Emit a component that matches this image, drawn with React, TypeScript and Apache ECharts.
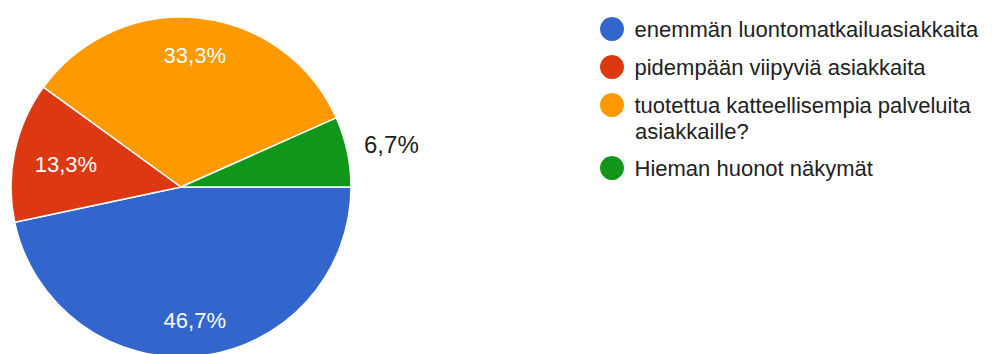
import React, { useEffect, useRef } from "react";
import * as echarts from "echarts";

const categories = [
  "enemmän luontomatkailuasiakkaita",
  "pidempään viipyviä asiakkaita",
  "tuotettua katteellisempia palveluita asiakkaille?",
  "Hieman huonot näkymät",
];
const counts = [7, 2, 5, 1];
const colors = ["#3366cc", "#dc3912", "#ff9900", "#109618"];
const legendFirstLine = "tuotettua katteellisempia palveluita";
const legendSecondLine = "asiakkaille?";

const FONT = "'Liberation Sans', Arial, sans-serif";

export default function App() {
  const ref = useRef<HTMLDivElement>(null);
  useEffect(() => {
    if (!ref.current) return;
    const chart = echarts.init(ref.current, undefined, { renderer: "svg" });
    const total = counts.reduce((a, b) => a + b, 0);
    const fmtPct = (v: number) => ((v / total) * 100).toFixed(1).replace(".", ",") + "%";
    const data = categories.map((name, i) => ({
      name,
      value: counts[i],
      itemStyle: { color: colors[i] },
    }));
    const labelData = categories.map((name, i) =>
      i === 3
        ? {
            name,
            value: counts[i],
            label: { position: "outside", color: "#222", fontSize: 24 },
            labelLine: { show: false, length: 12, length2: 0 },
          }
        : { name, value: counts[i] }
    );
    const legendCommon = {
      orient: "vertical",
      left: 600,
      padding: 0,
      itemWidth: 35,
      itemHeight: 24,
      itemGap: 14,
      icon: "circle",
      itemStyle: { borderWidth: 0 },
      textStyle: { fontSize: 22, color: "#222", lineHeight: 24, fontFamily: FONT },
      formatter: (name: string) => (name === categories[2] ? legendFirstLine : name),
      selectedMode: false,
    };
    chart.setOption({
      animation: false,
      backgroundColor: "#fff",
      textStyle: { fontFamily: FONT },
      legend: [
        { ...legendCommon, top: 17, data: categories.slice(0, 3) },
        { ...legendCommon, top: 156, data: categories.slice(3) },
      ],
      graphic: [
        {
          type: "text",
          x: 635,
          y: 131,
          style: {
            text: legendSecondLine,
            fontSize: 22,
            fill: "#222",
            fontFamily: FONT,
            verticalAlign: "middle",
          },
        },
      ],
      series: [
        {
          type: "pie",
          center: [181, 187],
          radius: [0, 170],
          startAngle: 0,
          clockwise: true,
          label: { show: false },
          labelLine: { show: false },
          itemStyle: { borderColor: "#fff", borderWidth: 1.5 },
          emphasis: { disabled: true },
          data,
        },
        {
          type: "pie",
          center: [181, 187],
          radius: [88, 170],
          startAngle: 0,
          clockwise: true,
          silent: true,
          avoidLabelOverlap: false,
          itemStyle: { color: "transparent", borderWidth: 0 },
          emphasis: { disabled: true },
          label: {
            show: true,
            position: "inside",
            color: "#fff",
            fontSize: 22,
            fontFamily: FONT,
            formatter: (p: any) => fmtPct(p.value),
          },
          labelLine: { show: false },
          labelLayout: (p: any) => {
            if (p.dataIndex === 1) return { dx: 14, dy: 5 };
            if (p.dataIndex === 0) return { dy: 2 };
            if (p.dataIndex === 3) return { dy: -5 };
            return {};
          },
          data: labelData,
        },
      ],
    });
    return () => chart.dispose();
  }, []);
  return (
    <div
      ref={ref}
      style={{ position: "fixed", left: 0, top: 0, width: 992, height: 354, background: "#fff" }}
    />
  );
}
